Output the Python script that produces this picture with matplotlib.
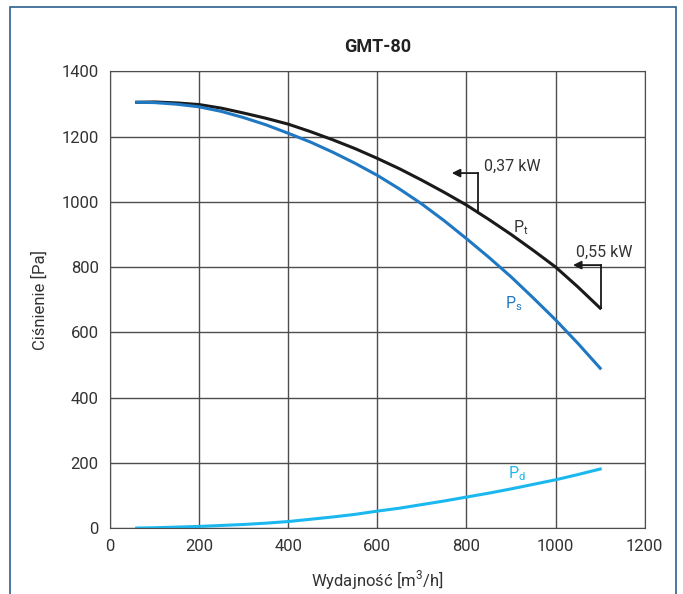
import matplotlib
matplotlib.use('Agg')
import matplotlib.pyplot as plt
from matplotlib.patches import Rectangle

plt.rcParams['font.family'] = ['Roboto', 'DejaVu Sans']

# dane
wydajnosc = [60, 100, 150, 200, 250, 300, 350, 400, 450, 500, 550, 600,
             650, 700, 750, 800, 850, 900, 950, 1000, 1050, 1100]
p_t = [1305, 1306, 1303, 1298, 1287, 1272, 1256, 1238, 1215, 1190, 1163, 1133,
       1101, 1066, 1029, 990, 946, 900, 851, 800, 739, 674]
p_s = [1305, 1304, 1299, 1291, 1277, 1258, 1236, 1210, 1183, 1152, 1118, 1081,
       1039, 993, 942, 887, 830, 770, 705, 638, 566, 490]
p_d = [0, 1, 3, 5, 8, 11, 15, 20, 27, 34, 42, 52,
       61, 72, 83, 95, 107, 120, 134, 148, 164, 181]

# znaczniki mocy silnika
moc_etykiety = ['0,37 kW', '0,55 kW']
moc_x = [825, 1101]
moc_y0 = [966, 674]
moc_y1 = [1088, 806]
moc_strzalka = [767, 1039]
moc_tekst_x = [839, 1045]
moc_tekst_y = [1109, 846]

fig = plt.figure(figsize=(6.83, 5.94), dpi=100)
ax = fig.add_axes([0.161, 0.111, 0.783, 0.769])

# ramka dookola
fig.patches.append(Rectangle((0.015, -0.05), 0.975, 1.038, transform=fig.transFigure,
                             fill=False, edgecolor='#2d5f8f', linewidth=1.2))

ax.plot(wydajnosc, p_t, color='#1a1a1a', lw=2.2)
ax.plot(wydajnosc, p_s, color='#1f78c1', lw=2.2)
ax.plot(wydajnosc, p_d, color='#1ab8ee', lw=2.2)

for etk, x, y0, y1, xs, tx, ty in zip(moc_etykiety, moc_x, moc_y0, moc_y1,
                                      moc_strzalka, moc_tekst_x, moc_tekst_y):
    ax.plot([x, x], [y0, y1], color='#1a1a1a', lw=1.3)
    ax.annotate('', xy=(xs, y1), xytext=(x + 1, y1),
                arrowprops=dict(arrowstyle='-|>', color='#1a1a1a', lw=1.3,
                                mutation_scale=12, shrinkA=0, shrinkB=0))
    ax.text(tx, ty, etk, fontsize=11.5, color='#333333', va='center')

ax.text(922, 920, 'P$_\\mathregular{t}$', fontsize=11.5, color='#333333', ha='center', va='center')
ax.text(905, 688, 'P$_\\mathregular{s}$', fontsize=11.5, color='#1f78c1', ha='center', va='center')
ax.text(912, 168, 'P$_\\mathregular{d}$', fontsize=11.5, color='#1ab8ee', ha='center', va='center')

ax.set_xlim(0, 1200)
ax.set_ylim(0, 1400)
ax.set_xticks(range(0, 1201, 200))
ax.set_yticks(range(0, 1401, 200))
ax.grid(True, color='#4d4d4d', lw=1)
ax.set_axisbelow(True)
for s in ax.spines.values():
    s.set_color('#4d4d4d')
ax.tick_params(length=0, pad=8, labelsize=12, colors='#333333')

ax.set_title('GMT-80', fontsize=13, fontweight='bold', color='#222222', pad=14)
ax.set_xlabel('Wydajność [m$^\\mathregular{3}$/h]', fontsize=12, color='#333333', labelpad=10)
ax.set_ylabel('Ciśnienie [Pa]', fontsize=12, color='#333333', labelpad=10)

fig.savefig('out.png', dpi=100)
